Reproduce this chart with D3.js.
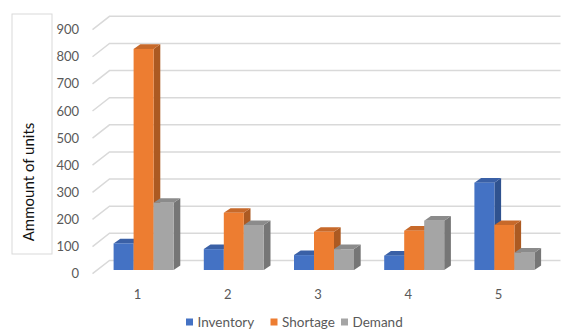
<!DOCTYPE html>
<html>
<head>
<meta charset="utf-8">
<script src="https://cdn.jsdelivr.net/npm/d3@7"></script>
<style>
  body { margin: 0; background: #fff; }
  text { font-family: Lato, "Open Sans", sans-serif; }
</style>
</head>
<body>
<svg></svg>
<script>
const categories = ["1", "2", "3", "4", "5"];
const seriesNames = ["Inventory", "Shortage", "Demand"];
const inventory = [98, 77, 55, 53, 322];
const shortage = [815, 211, 141, 145, 166];
const demand = [248, 166, 77, 182, 64];
const yTicks = [0, 100, 200, 300, 400, 500, 600, 700, 800, 900];

const series = [inventory, shortage, demand];
const colors = [
    {front: "#4472c4", top: "#3a60a6", side: "#2f528f"},
    {front: "#ed7d31", top: "#c7692a", side: "#ac5a22"},
    {front: "#a5a5a5", top: "#8b8b8b", side: "#767676"}
];

const svgWidth = 568;
const svgHeight = 336;

const svg = d3.select("svg")
    .attr("width", svgWidth)
    .attr("height", svgHeight);

// front (label) plane
const x = d3.scaleBand()
    .domain(categories)
    .range([92.5, 543.5]);

const y = d3.scaleLinear()
    .domain([0, 900])
    .range([273.7, 29.6]);

// depth offsets
const wall = {dx: 17, dy: -13.3};
const barPlane = {dx: 6, dy: -3.7};
const barDepth = {dx: 6.7, dy: -4.6};
const barW = 20;

// gridlines: floor diagonal + back wall
const grid = svg.append("g")
    .attr("fill", "none")
    .attr("stroke", "#d9d9d9")
    .attr("stroke-width", 1.5);

grid.selectAll("path")
    .data(yTicks)
    .enter()
    .append("path")
    .attr("d", d => {
        const x0 = x.range()[0], x1 = x.range()[1];
        return "M" + x0 + "," + y(d) +
            "L" + (x0 + wall.dx) + "," + (y(d) + wall.dy) +
            "L" + (x1 + wall.dx) + "," + (y(d) + wall.dy);
    });

// y tick labels
svg.append("g")
    .selectAll("text")
    .data(yTicks)
    .enter()
    .append("text")
    .attr("x", 79)
    .attr("y", d => y(d))
    .attr("dy", "0.35em")
    .attr("text-anchor", "end")
    .attr("font-size", 13)
    .attr("fill", "#595959")
    .text(d => d);

// category labels
svg.append("g")
    .selectAll("text")
    .data(categories)
    .enter()
    .append("text")
    .attr("x", d => x(d) + x.bandwidth() / 2)
    .attr("y", 294)
    .attr("dy", "0.35em")
    .attr("text-anchor", "middle")
    .attr("font-size", 13)
    .attr("fill", "#595959")
    .text(d => d);

// bars, drawn left to right so the side faces sit behind the next bar
const bars = [];
categories.forEach((c, i) => {
    series.forEach((s, k) => {
        bars.push({cat: c, k: k, value: s[i]});
    });
});

const bar = svg.append("g")
    .selectAll("g")
    .data(bars)
    .enter()
    .append("g");

const bx = d => x(d.cat) + x.bandwidth() / 2 - 1.5 * barW + d.k * barW + barPlane.dx;
const by0 = () => y(0) + barPlane.dy;
const by1 = d => y(d.value) + barPlane.dy;

bar.append("path")
    .attr("fill", d => colors[d.k].side)
    .attr("d", d => {
        const xr = bx(d) + barW;
        return "M" + xr + "," + by0() +
            "L" + (xr + barDepth.dx) + "," + (by0() + barDepth.dy) +
            "L" + (xr + barDepth.dx) + "," + (by1(d) + barDepth.dy) +
            "L" + xr + "," + by1(d) + "Z";
    });

bar.append("path")
    .attr("fill", d => colors[d.k].top)
    .attr("d", d => {
        const xl = bx(d);
        return "M" + xl + "," + by1(d) +
            "L" + (xl + barDepth.dx) + "," + (by1(d) + barDepth.dy) +
            "L" + (xl + barW + barDepth.dx) + "," + (by1(d) + barDepth.dy) +
            "L" + (xl + barW) + "," + by1(d) + "Z";
    });

bar.append("rect")
    .attr("fill", d => colors[d.k].front)
    .attr("x", bx)
    .attr("y", by1)
    .attr("width", barW)
    .attr("height", d => by0() - by1(d));

// axis title in its box
svg.append("rect")
    .attr("x", 12)
    .attr("y", 14)
    .attr("width", 40)
    .attr("height", 240)
    .attr("fill", "none")
    .attr("stroke", "#d9d9d9");

svg.append("text")
    .attr("transform", "translate(34,182) rotate(-90)")
    .attr("text-anchor", "middle")
    .attr("font-size", 15)
    .attr("fill", "#111")
    .text("Ammount of units");

// legend
const legendX = [186, 270.5, 341];
const legend = svg.append("g")
    .selectAll("g")
    .data(seriesNames)
    .enter()
    .append("g")
    .attr("transform", (d, i) => "translate(" + legendX[i] + ",322)");

legend.append("rect")
    .attr("x", 0)
    .attr("y", -3.5)
    .attr("width", 7)
    .attr("height", 7)
    .attr("fill", (d, i) => colors[i].front);

legend.append("text")
    .attr("x", 11.5)
    .attr("dy", "0.35em")
    .attr("font-size", 13.5)
    .attr("fill", "#595959")
    .text(d => d);
</script>
</body>
</html>
